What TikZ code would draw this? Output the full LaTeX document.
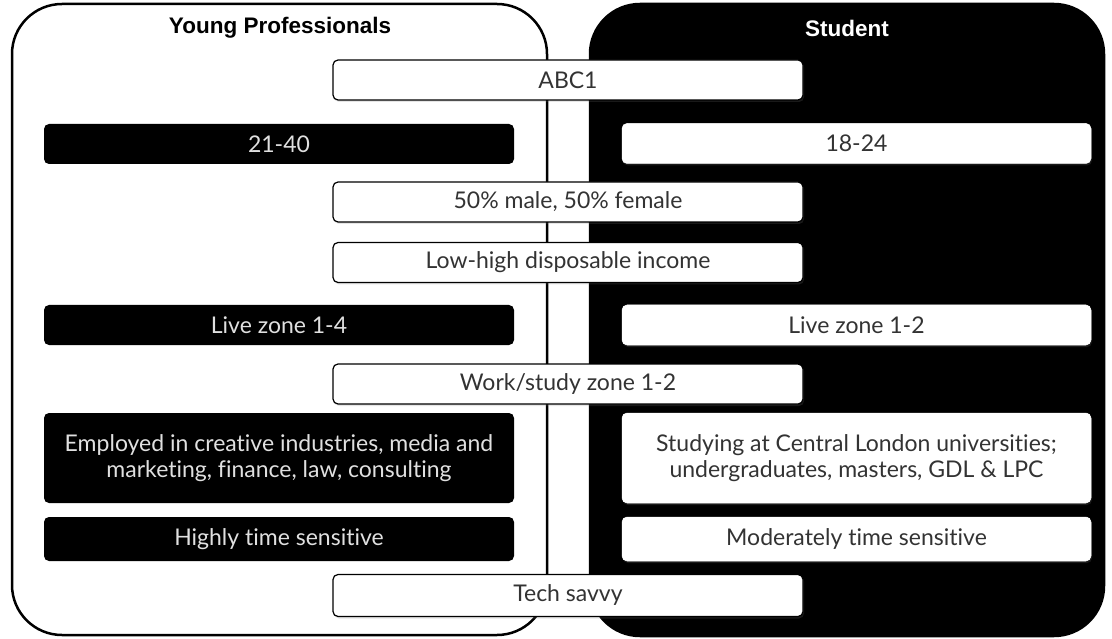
\documentclass[tikz,border=0pt]{standalone}
\usepackage{fontspec}
\setmainfont{Lato}[Ligatures={NoCommon}]
\newfontfamily\titlefont{Liberation Sans}
\usetikzlibrary{shadows}
\begin{document}
\begin{tikzpicture}[x=1pt,y=-1pt,
  panel/.style={line width=2.5pt, rounded corners=50pt},
  box/.style={rounded corners=5pt, minimum height=40pt, inner sep=0pt, align=center,
    font=\fontsize{23}{26}\selectfont},
  wbox/.style={box, draw=black, line width=1.2pt, fill=white, text=black!80,
    drop shadow={opacity=0.2, shadow xshift=1pt, shadow yshift=-2pt}},
  bbox/.style={box, fill=black, text=black!12},
  cbox/.style={wbox, minimum width=470pt},
  lbox/.style={bbox, minimum width=470pt},
  rbox/.style={wbox, draw=white, line width=0.5pt, minimum width=469pt},
  title/.style={font=\titlefont\bfseries\fontsize{22.5}{26}\selectfont}
]
\useasboundingbox (0,0) rectangle (1112,639);
% panels
\draw[panel, fill=black, draw=black] (590,4) rectangle (1104,636);
\draw[panel, fill=white, draw=black] (12,4) rectangle (547,635);
\node[title, text=black] (typ) at (280,28) {Young Professionals};
\node[title, text=white] (tst) at (847,28) {Student};
% center boxes
\node[cbox] (abc) at (568,80) {ABC1};
\node[lbox] (age1) at (279,144) {21-40};
\node[rbox] (age2) at (856.5,143.5) {18-24};
\node[cbox] (sex) at (568,202) {50\% male, 50\% female};
\node[cbox] (inc) at (568,262.5) {Low-high disposable income};
\node[lbox] (live1) at (279,325) {Live zone 1-4};
\node[rbox] (live2) at (856.5,325) {Live zone 1-2};
\node[cbox] (work) at (568,384) {Work/study zone 1-2};
\node[lbox, minimum height=90pt] (emp) at (279,458) {Employed in creative industries, media and\\marketing, finance, law, consulting};
\node[rbox, minimum height=90pt] (stu) at (856.5,458) {Studying at Central London universities;\\undergraduates, masters, GDL \& LPC};
\node[lbox, minimum height=44pt] (time1) at (279,539) {Highly time sensitive};
\node[rbox, minimum height=44pt] (time2) at (856.5,539) {Moderately time sensitive};
\node[cbox, minimum height=42pt] (tech) at (568,595.5) {Tech savvy};
\end{tikzpicture}
\end{document}
